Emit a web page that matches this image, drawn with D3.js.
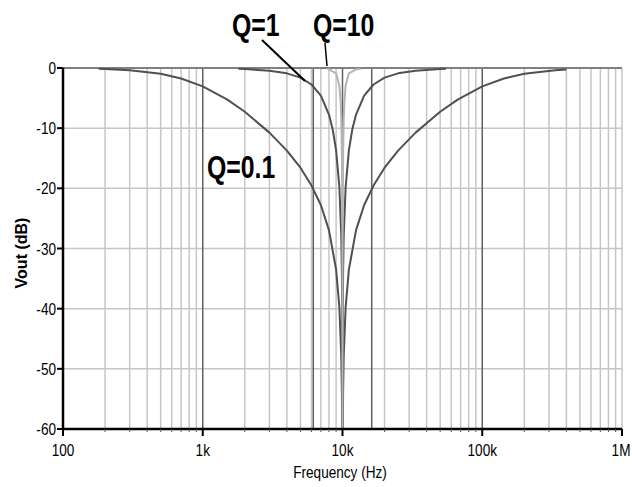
<!DOCTYPE html>
<html>
<head>
<meta charset="utf-8">
<script src="https://cdn.jsdelivr.net/npm/d3@7"></script>
<style>
  body { margin: 0; background: #fff; }
  svg { display: block; }
  text { font-family: "Liberation Sans", Arial, sans-serif; }
</style>
</head>
<body>
<div id="chart"></div>
<script>
// Q = 0.1 (dB)
const q01Freq = [180, 200, 300, 500, 700, 1000, 1500, 2000, 3000, 4000, 5000, 6000, 7000, 8000, 9000, 9500, 9800, 9900, 9950, 10000,
                 10050, 10100, 10200, 10530, 11110, 12500, 14290, 16670, 20000, 25000, 33330, 50000, 66670, 100000, 142900, 200000, 333300, 400000];
const q01Db   = [-0.14, -0.17, -0.37, -0.97, -1.75, -3.05, -5.26, -7.28, -10.74, -13.74, -16.57, -19.54, -22.77, -26.94, -33.51, -39.78, -47.87, -53.94, -59.98, -60,
                 -59.98, -53.94, -47.87, -39.78, -33.51, -26.94, -22.77, -19.54, -16.57, -13.74, -10.74, -7.28, -5.26, -3.05, -1.75, -0.97, -0.37, -0.25];

// Q = 1
const q1Freq = [1800, 2000, 3000, 4000, 5000, 6000, 7000, 8000, 8500, 9000, 9500, 9800, 9900, 9950, 9980, 9990, 10000,
                10010, 10020, 10050, 10100, 10200, 10530, 11110, 11760, 12500, 14290, 16670, 20000, 25000, 33330, 50000, 55000];
const q1Db   = [-0.14, -0.18, -0.45, -0.89, -1.60, -2.74, -4.60, -7.74, -10.16, -13.70, -19.82, -27.88, -33.94, -39.98, -47.95, -53.98, -60,
                -53.98, -47.95, -39.98, -33.94, -27.88, -19.82, -13.70, -10.16, -7.74, -4.60, -2.74, -1.60, -0.89, -0.45, -0.18, -0.14];

// Q = 10
const q10Freq = [7800, 8000, 9000, 9500, 9700, 9800, 9900, 9950, 9980, 9990, 9995, 9998, 9999, 10000,
                 10001, 10002, 10005, 10010, 10020, 10050, 10100, 10200, 10310, 10530, 11110, 12500, 13500];
const q10Db   = [-0.17, -0.21, -0.88, -2.90, -5.67, -8.53, -14.27, -20.06, -27.96, -33.98, -40, -47.96, -53.98, -60,
                 -53.98, -47.96, -40, -33.98, -27.96, -20.06, -14.27, -8.53, -5.67, -2.90, -0.88, -0.21, -0.17];

// axis ticks
const xTicks = [100, 1000, 10000, 100000, 1000000];
const xTickLabels = ["100", "1k", "10k", "100k", "1M"];
const yTicks = [0, -10, -20, -30, -40, -50, -60];
// dark marker lines (-3 dB points)
const markerFreqs = [6180, 16180];

const W = 632, H = 487;
const plot = {left: 63, right: 622, top: 68, bottom: 429};
const squeeze = 0.8;   // condensed look of the original lettering

const svg = d3.select("#chart").append("svg")
  .attr("width", W).attr("height", H);

const x = d3.scaleLog().domain([100, 1e6]).range([plot.left, plot.right]);
const y = d3.scaleLinear().domain([-60, 0]).range([plot.bottom, plot.top]);

// text placed at (px,py), squeezed horizontally around its anchor
function narrowText(sel, px, py) {
  return sel.attr("transform", (d, i) => `translate(${px(d, i)},${py(d, i)}) scale(${squeeze},1)`);
}

// minor vertical grid
const minor = [];
for (let dec = 100; dec < 1e6; dec *= 10) {
  for (let m = 2; m <= 9; m++) minor.push(dec * m);
}
minor.push(1e6);

svg.append("g").selectAll("line").data(minor).join("line")
  .attr("x1", d => x(d)).attr("x2", d => x(d))
  .attr("y1", y(0)).attr("y2", y(-60))
  .attr("stroke", "#c6c6c6").attr("stroke-width", 1.5);

// horizontal grid
svg.append("g").selectAll("line").data(yTicks.filter(d => d !== 0 && d !== -60)).join("line")
  .attr("x1", x(100)).attr("x2", x(1e6))
  .attr("y1", d => y(d)).attr("y2", d => y(d))
  .attr("stroke", "#c6c6c6").attr("stroke-width", 1.5);

// decade lines and markers
svg.append("g").selectAll("line").data([1000, 10000, 100000].concat(markerFreqs)).join("line")
  .attr("x1", d => x(d)).attr("x2", d => x(d))
  .attr("y1", y(0)).attr("y2", y(-60))
  .attr("stroke", "#606060").attr("stroke-width", 1.5);

// 0 dB line
svg.append("line")
  .attr("x1", x(100)).attr("x2", x(1e6))
  .attr("y1", y(0)).attr("y2", y(0))
  .attr("stroke", "#808080").attr("stroke-width", 2);

// curves
const line = d3.line().x(d => x(d[0])).y(d => y(Math.max(-60, d[1])));
const series = [
  {f: q01Freq, v: q01Db, color: "#505050", w: 2},
  {f: q1Freq, v: q1Db, color: "#505050", w: 2},
  {f: q10Freq, v: q10Db, color: "#b4b4b4", w: 2}
];
series.forEach(s => {
  svg.append("path")
    .datum(s.f.map((f, i) => [f, s.v[i]]))
    .attr("d", line)
    .attr("fill", "none")
    .attr("stroke", s.color)
    .attr("stroke-width", s.w)
    .attr("stroke-linejoin", "round");
});

// axes
const xAxis = svg.append("g").attr("transform", `translate(0,${y(-60)})`);
xAxis.append("line").attr("x1", x(100) - 1).attr("x2", x(1e6)).attr("stroke", "#000").attr("stroke-width", 2.5);
xAxis.selectAll(".minor").data(minor).join("line")
  .attr("x1", d => x(d)).attr("x2", d => x(d)).attr("y1", 0).attr("y2", 3)
  .attr("stroke", "#555").attr("stroke-width", 1);
xAxis.selectAll(".major").data(xTicks).join("line")
  .attr("x1", d => x(d)).attr("x2", d => x(d)).attr("y1", 0).attr("y2", 7)
  .attr("stroke", "#000").attr("stroke-width", 2);
narrowText(xAxis.selectAll("text").data(xTicks).join("text"),
    (d, i) => x(d) + (i === xTicks.length - 1 ? -1 : 0), () => 27)
  .attr("text-anchor", "middle")
  .style("font-size", "17px")
  .text((d, i) => xTickLabels[i]);

const yAxis = svg.append("g").attr("transform", `translate(${x(100)},0)`);
yAxis.append("line").attr("y1", y(0)).attr("y2", y(-60) + 1).attr("stroke", "#000").attr("stroke-width", 2.5);
yAxis.selectAll(".tk").data(yTicks).join("line")
  .attr("x1", -6).attr("x2", 0).attr("y1", d => y(d)).attr("y2", d => y(d))
  .attr("stroke", "#000").attr("stroke-width", 2);
narrowText(yAxis.selectAll("text").data(yTicks).join("text"), () => -7, d => y(d) + 6)
  .attr("text-anchor", "end")
  .style("font-size", "17px")
  .text(d => d);

// axis titles
narrowText(svg.append("text").datum(0), () => 340, () => 478)
  .attr("text-anchor", "middle")
  .style("font-size", "17px")
  .text("Frequency (Hz)");

svg.append("text")
  .attr("transform", "translate(27,253) rotate(-90)")
  .attr("text-anchor", "middle")
  .style("font-size", "16px")
  .style("font-weight", "bold")
  .text("Vout (dB)");

// Q annotations
const qLabels = [
  {t: "Q=1", x: 232, y: 36},
  {t: "Q=10", x: 313, y: 36},
  {t: "Q=0.1", x: 207, y: 178}
];
narrowText(svg.selectAll(".qlab").data(qLabels).join("text"), d => d.x, d => d.y)
  .style("font-size", "31px")
  .style("font-weight", "bold")
  .text(d => d.t);

svg.append("line").attr("x1", 262).attr("y1", 40).attr("x2", 305).attr("y2", 81)
  .attr("stroke", "#000").attr("stroke-width", 2);
svg.append("line").attr("x1", 325).attr("y1", 43).attr("x2", 327).attr("y2", 66)
  .attr("stroke", "#000").attr("stroke-width", 1.5);
</script>
</body>
</html>
